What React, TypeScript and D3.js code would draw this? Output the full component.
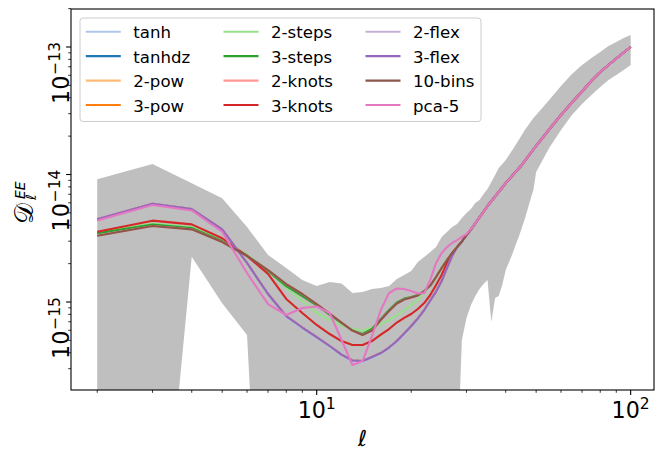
import React from "react";
import * as d3 from "d3";

// multipoles where the individual curves are resolved
const ellLow = [2, 3, 4, 5, 6, 7, 8, 9, 10, 11, 12, 13, 14, 15, 16, 17, 18, 19, 20, 21, 22, 23, 24, 25, 26, 27, 28, 29, 30, 31];
// shared high-ell tail (all models coincide)
const ellTail = [32, 35, 40, 45, 50, 55, 60, 65, 70, 75, 80, 85, 90, 95, 100];
const logTail = [-14.384, -14.247, -14.067, -13.925, -13.776, -13.647, -13.533, -13.435, -13.349, -13.265, -13.196, -13.141, -13.09, -13.043, -13.0];

// log10 D_ell^EE per model, ell = 2..31
const logTanh = [-14.351, -14.23, -14.271, -14.432, -14.7, -14.947, -15.12, -15.21, -15.285, -15.355, -15.422, -15.469, -15.473, -15.441, -15.41, -15.367, -15.316, -15.257, -15.197, -15.137, -15.07, -14.993, -14.921, -14.837, -14.734, -14.639, -14.569, -14.525, -14.475, -14.431];
const logFlex = [-14.351, -14.23, -14.271, -14.43, -14.694, -14.937, -15.11, -15.2, -15.275, -15.345, -15.412, -15.459, -15.463, -15.431, -15.4, -15.357, -15.306, -15.247, -15.188, -15.129, -15.063, -14.988, -14.918, -14.835, -14.733, -14.639, -14.569, -14.525, -14.475, -14.431];
const logTanhdz = logFlex;
const logPow2 = logFlex;
const logPow3 = logFlex;
const logSteps2 = [-14.455, -14.384, -14.412, -14.514, -14.631, -14.749, -14.89, -14.992, -15.086, -15.141, -15.18, -15.212, -15.224, -15.2, -15.173, -15.141, -15.102, -15.063, -15.024, -14.98, -14.929, -14.875, -14.804, -14.733, -14.671, -14.616, -14.569, -14.525, -14.475, -14.431];
const logSteps3 = [-14.461, -14.392, -14.42, -14.522, -14.635, -14.757, -14.875, -14.953, -15.027, -15.098, -15.165, -15.224, -15.251, -15.212, -15.133, -15.063, -15.004, -14.973, -14.961, -14.945, -14.914, -14.871, -14.804, -14.733, -14.671, -14.616, -14.569, -14.525, -14.475, -14.431];
const logBins10 = [-14.48, -14.404, -14.43, -14.529, -14.639, -14.749, -14.859, -14.937, -15.016, -15.09, -15.161, -15.224, -15.259, -15.224, -15.141, -15.071, -15.012, -14.98, -14.965, -14.949, -14.914, -14.871, -14.804, -14.733, -14.671, -14.616, -14.569, -14.525, -14.475, -14.431];
const logKnots2 = logBins10;
const logKnots3 = [-14.449, -14.362, -14.391, -14.5, -14.639, -14.78, -14.976, -15.086, -15.18, -15.251, -15.306, -15.337, -15.337, -15.306, -15.255, -15.212, -15.161, -15.125, -15.094, -15.055, -15.008, -14.945, -14.867, -14.788, -14.694, -14.616, -14.569, -14.525, -14.475, -14.431];
const logPca5 = [-14.361, -14.239, -14.282, -14.449, -14.773, -15.016, -15.102, -15.047, -15.035, -15.086, -15.298, -15.494, -15.463, -15.267, -15.063, -14.929, -14.894, -14.898, -14.914, -14.933, -14.929, -14.827, -14.694, -14.616, -14.569, -14.537, -14.514, -14.49, -14.467, -14.428];

// grey envelope
const bandEll = [2, 3, 4, 5, 6, 7, 8, 9, 10, 11, 12, 13, 14, 15, 16, 17, 18, 19, 20, 21, 22, 23, 24, 25, 26, 27, 28, 29, 30, 31, 32, 33, 34, 35, 36, 37, 38, 39, 40, 41, 42, 43, 44, 45, 46, 47, 48, 49, 50, 55, 60, 65, 70, 75, 80, 85, 90, 95, 100];
const bandHi = [-14.038, -13.918, -14.069, -14.187, -14.412, -14.631, -14.733, -14.827, -14.875, -14.843, -14.855, -14.929, -14.922, -14.898, -14.89, -14.875, -14.82, -14.788, -14.757, -14.686, -14.647, -14.608, -14.569, -14.49, -14.451, -14.412, -14.388, -14.341, -14.302, -14.271, -14.224, -14.2, -14.153, -14.114, -14.059, -14.004, -13.949, -13.918, -13.886, -13.847, -13.808, -13.769, -13.729, -13.69, -13.651, -13.62, -13.588, -13.557, -13.533, -13.416, -13.306, -13.212, -13.141, -13.086, -13.039, -12.992, -12.961, -12.929, -12.906];
const bandLo = [-18.0, -17.855, -14.645, -15.01, -15.259, -18.38, -18, -18, -18, -18, -18, -18, -18, -18, -18, -18, -18, -18, -18, -18, -18, -18, -18, -18, -18, -18, -16.318, -15.298, -15.125, -15.024, -14.953, -14.898, -14.859, -14.827, -15.157, -14.969, -14.953, -14.867, -14.749, -14.686, -14.624, -14.553, -14.49, -14.42, -14.349, -14.271, -14.192, -14.122, -13.98, -13.792, -13.651, -13.533, -13.447, -13.376, -13.314, -13.259, -13.22, -13.18, -13.141];

const names = ["tanh", "tanhdz", "2-pow", "3-pow", "2-steps", "3-steps", "2-knots", "3-knots", "2-flex", "3-flex", "10-bins", "pca-5"];
const colors = ["#aec7e8", "#1f77b4", "#ffbb78", "#ff7f0e", "#98df8a", "#2ca02c", "#ff9896", "#d62728", "#c5b0d5", "#9467bd", "#8c564b", "#e377c2"];
const seriesLogs = [logTanh, logTanhdz, logPow2, logPow3, logSteps2, logSteps3, logKnots2, logKnots3, logFlex, logFlex, logBins10, logPca5];

const xMajor = [10, 100];
const xMinor = [2, 3, 4, 5, 6, 7, 8, 9, 20, 30, 40, 50, 60, 70, 80, 90];
const yMajorExp = [-15, -14, -13];

const L = 71, R = 654, T = 9, B = 390;
const FONT = "DejaVu Sans, Verdana, sans-serif";

export default function App() {
  const x = d3.scaleLog().domain([1.65, 118.67]).range([L, R]);
  const y = d3.scaleLog().domain([Math.pow(10, -15.69), Math.pow(10, -12.702)]).range([B, T]);

  const line = d3
    .line<[number, number]>()
    .x((d) => x(d[0]))
    .y((d) => y(Math.pow(10, d[1])));

  const area = d3
    .area<number>()
    .x((i) => x(bandEll[i]))
    .y0((i) => y(Math.pow(10, bandLo[i])))
    .y1((i) => y(Math.pow(10, bandHi[i])));

  const yMinor: number[] = [];
  for (let e = -16; e <= -13; e++) {
    for (let k = 2; k <= 9; k++) {
      const v = k * Math.pow(10, e);
      const py = y(v);
      if (py >= T - 0.5 && py <= B + 0.5) yMinor.push(v);
    }
  }

  const legendCols = [133.3, 271, 413];
  const rowY = [31.7, 56.1, 80.6, 105];

  return (
    <svg width={660} height={450} style={{ display: "block", position: "absolute", left: 0, top: 0 }} fontFamily={FONT}>
      <defs>
        <clipPath id="axclip">
          <rect x={L} y={T} width={R - L} height={B - T} />
        </clipPath>
      </defs>
      <rect x={0} y={0} width={660} height={450} fill="#fff" />
      <g clipPath="url(#axclip)">
        <path d={area(d3.range(bandEll.length)) || ""} fill="#bfbfbf" stroke="none" />
        {seriesLogs.map((vals, si) => {
          const pts: [number, number][] = ellLow.map((l, i) => [l, vals[i]] as [number, number]).concat(
            ellTail.map((l, i) => [l, logTail[i]] as [number, number])
          );
          return (
            <path key={names[si]} d={line(pts) || ""} fill="none" stroke={colors[si]} strokeWidth={2.1} strokeLinejoin="round" strokeLinecap="butt" />
          );
        })}
      </g>
      {/* spines */}
      <rect x={L} y={T} width={R - L} height={B - T} fill="none" stroke="#000" strokeWidth={1.1} />
      {/* x ticks */}
      {xMajor.map((v) => (
        <g key={"xM" + v}>
          <line x1={x(v)} x2={x(v)} y1={B} y2={B + 4.9} stroke="#000" strokeWidth={1.1} />
          <text x={x(v)} y={418} textAnchor="middle" fontSize={22.2} fill="#000">
            10<tspan fontSize={15.5} dy={-9}>{String(Math.round(Math.log10(v)))}</tspan>
          </text>
        </g>
      ))}
      {xMinor.map((v) => (
        <line key={"xm" + v} x1={x(v)} x2={x(v)} y1={B} y2={B + 2.8} stroke="#000" strokeWidth={0.8} />
      ))}
      {/* y ticks */}
      {yMajorExp.map((e) => {
        const py = y(Math.pow(10, e));
        return (
          <g key={"yM" + e}>
            <line x1={L - 4.9} x2={L} y1={py} y2={py} stroke="#000" strokeWidth={1.1} />
            <text transform={`translate(69,${py - 5}) rotate(-90)`} textAnchor="end" fontSize={22.2} fill="#000">
              10<tspan fontSize={15.5} dy={-9} dx={1}>{"\u2212" + String(-e)}</tspan>
            </text>
          </g>
        );
      })}
      {yMinor.map((v, i) => (
        <line key={"ym" + i} x1={L - 2.8} x2={L} y1={y(v)} y2={y(v)} stroke="#000" strokeWidth={0.8} />
      ))}
      {/* axis labels */}
      <text x={(L + R) / 2} y={446} textAnchor="middle" fontSize={22} fontStyle="italic" fill="#000">
        ℓ
      </text>
      <g transform="translate(33,224) rotate(-90)">
        <text x={0} y={0} fontSize={26} fill="#000" fontFamily="DejaVu Sans, serif">
          𝒟
        </text>
        <text x={25} y={-8.5} fontSize={14} fontStyle="italic" fill="#000">
          EE
        </text>
        <text x={24} y={3} fontSize={14} fill="#000">
          ℓ
        </text>
      </g>
      {/* legend */}
      <rect x={80} y={18} width={401} height={103.5} rx={3} ry={3} fill="#fff" fillOpacity={0.8} stroke="#cccccc" strokeWidth={1} />
      {names.map((n, i) => {
        const col = Math.floor(i / 4);
        const row = i % 4;
        const tx = legendCols[col];
        const ry = rowY[row];
        return (
          <g key={"lg" + n}>
            <line x1={tx - 47.5} x2={tx - 12.5} y1={ry} y2={ry} stroke={colors[i]} strokeWidth={2.1} />
            <text x={tx} y={ry + 6.5} fontSize={16.6} fill="#000">
              {n}
            </text>
          </g>
        );
      })}
    </svg>
  );
}
